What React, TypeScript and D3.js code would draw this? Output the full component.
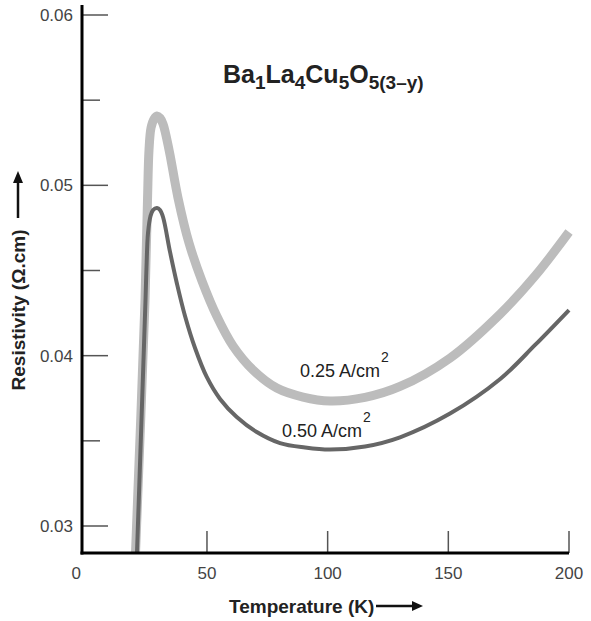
import React from "react";
import * as d3 from "d3";

const lowCurrentT = [20.39, 24.33, 25.36, 25.98, 26.81, 28.05, 29.3, 30.54, 31.79, 34.3, 38.0, 42.56, 47.95, 54.04, 60.8, 69.08, 78.91, 89.81, 101.0, 115.5, 130, 150.7, 171.5, 185.95, 200];
const lowCurrentR = [0.02841, 0.04327, 0.04914, 0.05207, 0.05337, 0.05389, 0.05407, 0.05395, 0.0536, 0.05207, 0.04926, 0.04661, 0.04438, 0.04233, 0.04057, 0.03916, 0.0381, 0.03757, 0.03734, 0.03755, 0.03819, 0.03986, 0.04245, 0.04468, 0.04726];
const highCurrentT = [21.0, 24.53, 24.95, 25.57, 26.61, 27.64, 29.3, 30.54, 31.79, 34.69, 37.59, 40.9, 45.05, 49.9, 55.41, 62.33, 70.62, 80.27, 90.63, 101.0, 115.5, 130, 150.7, 171.5, 185.95, 200];
const highCurrentR = [0.02841, 0.04327, 0.04521, 0.0472, 0.0482, 0.04855, 0.04867, 0.04855, 0.04814, 0.04609, 0.04421, 0.04233, 0.04045, 0.03875, 0.03746, 0.0364, 0.03552, 0.03487, 0.03461, 0.03449, 0.03467, 0.03521, 0.0366, 0.03863, 0.04063, 0.04268];
const xTicks = [0, 50, 100, 150, 200];
const yMajorTicks = [0.03, 0.04, 0.05, 0.06];
const yMinorTicks = [0.035, 0.045, 0.055];

const FONT = "'Liberation Sans', Arial, Helvetica, sans-serif";

export default function App() {
  const W = 591, H = 621;
  const x = d3.scaleLinear().domain([0, 200]).range([86.3, 569]);
  const y = d3.scaleLinear().domain([0.03, 0.06]).range([526, 15]);
  const axisX = 82;
  const axisY = 553;
  const line = d3
    .line<[number, number]>()
    .x((d) => x(d[0]))
    .y((d) => y(d[1]))
    .curve(d3.curveCatmullRom.alpha(0.5));
  const low = lowCurrentT.map((t, i) => [t, lowCurrentR[i]] as [number, number]);
  const high = highCurrentT.map((t, i) => [t, highCurrentR[i]] as [number, number]);

  return (
    <svg width={W} height={H} style={{ position: "absolute", left: 0, top: 0, background: "#fff" }} fontFamily={FONT}>
      <defs>
        <clipPath id="plot">
          <rect x={axisX} y={0} width={W - axisX} height={axisY - 1} />
        </clipPath>
      </defs>
      <rect width={W} height={H} fill="#fff" />
      {/* curves */}
      <g clipPath="url(#plot)">
        <path d={line(low) || ""} fill="none" stroke="#bcbcbc" strokeWidth={9} strokeLinejoin="round" />
        <path d={line(high) || ""} fill="none" stroke="#666" strokeWidth={4} strokeLinejoin="round" />
      </g>
      {/* y ticks */}
      {yMajorTicks.map((v) => (
        <g key={"ym" + v}>
          <line x1={axisX} x2={axisX + 26} y1={y(v)} y2={y(v)} stroke="#555" strokeWidth={1.5} />
          <text x={73} y={y(v)} dy="0.36em" textAnchor="end" fontSize={17} fill="#444">
            {v.toFixed(2)}
          </text>
        </g>
      ))}
      {yMinorTicks.map((v) => (
        <line key={"yn" + v} x1={axisX} x2={axisX + 18} y1={y(v)} y2={y(v)} stroke="#555" strokeWidth={1.5} />
      ))}
      {/* x ticks */}
      {xTicks.map((v) => (
        <g key={"x" + v}>
          {v !== 0 && <line x1={x(v)} x2={x(v)} y1={axisY} y2={axisY - 22} stroke="#555" strokeWidth={1.5} />}
          <text
            x={v === 0 ? axisX - 1 : x(v)}
            y={579}
            textAnchor={v === 0 ? "end" : "middle"}
            fontSize={17}
            fill="#444"
          >
            {v}
          </text>
        </g>
      ))}
      {/* axes */}
      <line x1={axisX} x2={axisX} y1={5} y2={axisY + 1.5} stroke="#000" strokeWidth={3} />
      <line x1={axisX - 1.5} x2={x(200)} y1={axisY} y2={axisY} stroke="#000" strokeWidth={3} />
      {/* title */}
      <text x={223} y={83} fontSize={25} fontWeight="bold" fill="#222">
        Ba<tspan fontSize={19} dy={6}>1</tspan>
        <tspan dy={-6}>La</tspan>
        <tspan fontSize={19} dy={6}>4</tspan>
        <tspan dy={-6}>Cu</tspan>
        <tspan fontSize={19} dy={6}>5</tspan>
        <tspan dy={-6}>O</tspan>
        <tspan fontSize={19} dy={6}>5(3–y)</tspan>
      </text>
      {/* curve labels */}
      <text x={300} y={377} fontSize={18} fill="#222">
        0.25 A/cm<tspan fontSize={14} dx={1} dy={-15}>2</tspan>
      </text>
      <text x={282} y={437} fontSize={18} fill="#222">
        0.50 A/cm<tspan fontSize={14} dx={1} dy={-15}>2</tspan>
      </text>
      {/* x label */}
      <text x={229} y={613} fontSize={19} fontWeight="bold" fill="#222">
        Temperature (K)
      </text>
      <line x1={376} x2={414} y1={606} y2={606} stroke="#111" strokeWidth={2.5} />
      <path d="M412,601 L423,606 L412,611 Z" fill="#111" />
      {/* y label */}
      <text
        transform="translate(25,310) rotate(-90)"
        textAnchor="middle"
        fontSize={19}
        fontWeight="bold"
        fill="#222"
      >
        Resistivity (Ω.cm)
      </text>
      <line x1={18} x2={18} y1={218} y2={181} stroke="#111" strokeWidth={2.5} />
      <path d="M13,183 L18,171 L23,183 Z" fill="#111" />
    </svg>
  );
}
